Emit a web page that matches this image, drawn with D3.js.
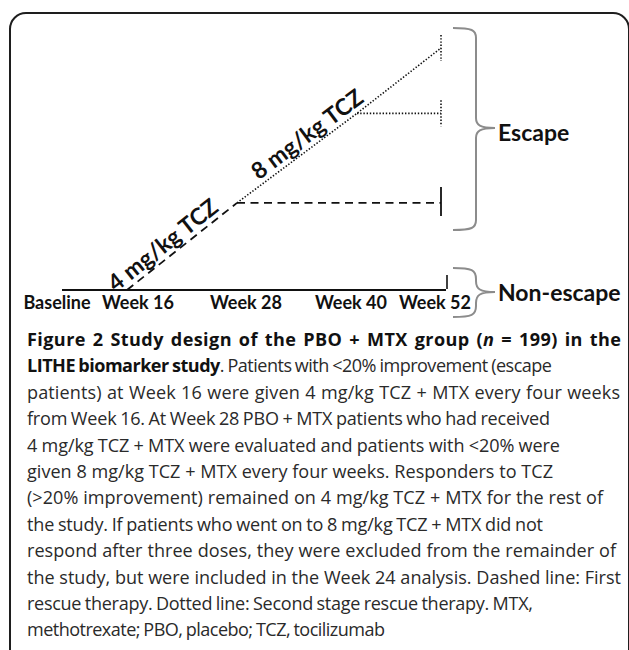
<!DOCTYPE html>
<html>
<head>
<meta charset="utf-8">
<script src="https://cdn.jsdelivr.net/npm/d3@7/dist/d3.min.js"></script>
<style>
  html, body { margin: 0; padding: 0; background: #fff; }
  svg { display: block; }
</style>
</head>
<body>
<svg id="chart" width="629" height="650"></svg>
<script>
// ---------- data ----------
const weeks = [0, 16, 28, 40, 52];
const weekLabels = ["Baseline", "Week 16", "Week 28", "Week 40", "Week 52"];
// escape path (diagonal) : week -> relative escape level
const diagonalWeeks = [16, 28, 40, 52];
const diagonalLevels = [0, 0.36, 0.73, 1.0];
// rescue branches that stay on dose until Week 52
const branchStartWeeks = [28, 40];
const branchLevels = [0.36, 0.73];
// dose labels along the diagonal (week at label centre)
const doseLabels = ["4 mg/kg TCZ", "8 mg/kg TCZ"];
const doseLabelWeeks = [20.8, 35.8];
// groups
const groupLabels = ["Escape", "Non-escape"];
// caption (runs: text, bold, italic)
const captionLines = [
  [["Figure 2 Study design of the PBO + MTX group (", 1, 0], ["n", 1, 1], [" = 199) in the", 1, 0]],
  [["LITHE biomarker study", 1, 0], [". Patients with <20% improvement (escape", 0, 0]],
  [["patients) at Week 16 were given 4 mg/kg TCZ + MTX every four weeks", 0, 0]],
  [["from Week 16. At Week 28 PBO + MTX patients who had received", 0, 0]],
  [["4 mg/kg TCZ + MTX were evaluated and patients with <20% were", 0, 0]],
  [["given 8 mg/kg TCZ + MTX every four weeks. Responders to TCZ", 0, 0]],
  [["(>20% improvement) remained on 4 mg/kg TCZ + MTX for the rest of", 0, 0]],
  [["the study. If patients who went on to 8 mg/kg TCZ + MTX did not", 0, 0]],
  [["respond after three doses, they were excluded from the remainder of", 0, 0]],
  [["the study, but were included in the Week 24 analysis. Dashed line: First", 0, 0]],
  [["rescue therapy. Dotted line: Second stage rescue therapy. MTX,", 0, 0]],
  [["methotrexate; PBO, placebo; TCZ, tocilizumab", 0, 0]]
];
// right end of each caption line in the reference
const captionLineEnds = [621, 552, 620, 550, 560, 553, 603, 543, 616, 621, 533, 385];

// ---------- scales ----------
const x = d3.scaleLinear().domain(weeks).range([62, 127, 237, 357, 441]);
const xLabel = d3.scaleLinear().domain(weeks).range([57, 138, 246, 351, 435]);
const y = d3.scaleLinear().domain([0, 1]).range([290, 48]);

const svg = d3.select("#chart");
const ink = "#111";
const diagramFont = "Lato, 'Open Sans', sans-serif";

// frame
svg.append("rect")
  .attr("x", 10).attr("y", 13).attr("width", 619).attr("height", 700)
  .attr("rx", 16).attr("ry", 16)
  .attr("fill", "none").attr("stroke", "#1e1e1e").attr("stroke-width", 2);

// axis line (non-escape)
svg.append("line")
  .attr("x1", x(0)).attr("x2", x(52) + 5)
  .attr("y1", y(0)).attr("y2", y(0))
  .attr("stroke", ink).attr("stroke-width", 2);
svg.append("line")
  .attr("x1", x(52) + 6).attr("x2", x(52) + 6)
  .attr("y1", y(0) - 15).attr("y2", y(0) - 1)
  .attr("stroke", ink).attr("stroke-width", 1.6);

// week labels
svg.append("g").selectAll("text").data(weeks).join("text")
  .attr("x", d => xLabel(d)).attr("y", y(0) + 19)
  .attr("text-anchor", "middle")
  .attr("font-family", diagramFont).attr("font-weight", 700)
  .attr("font-size", 18).attr("fill", ink)
  .text((d, i) => weekLabels[i]);

// diagonal segments
const diagPts = diagonalWeeks.map((w, i) => [x(w), y(diagonalLevels[i])]);
const lineGen = d3.line();
svg.append("path").attr("d", lineGen(diagPts.slice(0, 2)))
  .attr("fill", "none").attr("stroke", ink).attr("stroke-width", 1.8)
  .attr("stroke-dasharray", "8,5.5");
svg.append("path").attr("d", lineGen(diagPts.slice(1)))
  .attr("fill", "none").attr("stroke", ink).attr("stroke-width", 1.6)
  .attr("stroke-dasharray", "1.4,1.8");

// branches
branchStartWeeks.forEach((w, i) => {
  svg.append("line")
    .attr("x1", x(w)).attr("x2", x(52))
    .attr("y1", y(branchLevels[i])).attr("y2", y(branchLevels[i]))
    .attr("stroke", ink)
    .attr("stroke-width", i === 0 ? 1.8 : 1.6)
    .attr("stroke-dasharray", i === 0 ? "8,5.5" : "1.4,1.8");
});

// end-of-study markers at Week 52
const endLevels = [branchLevels[0], branchLevels[1], diagonalLevels[3]];
endLevels.forEach((lv, i) => {
  svg.append("line")
    .attr("x1", x(52)).attr("x2", x(52))
    .attr("y1", y(lv) - (i === 0 ? 16 : 13)).attr("y2", y(lv) + 13)
    .attr("stroke", ink).attr("stroke-width", i === 0 ? 1.8 : 1.6)
    .attr("stroke-dasharray", i === 0 ? null : "1.4,1.8");
});

// dose labels
const diagX = d3.scaleLinear().domain(diagonalWeeks).range(diagonalWeeks.map(w => x(w)));
const diagY = d3.scaleLinear().domain(diagonalWeeks).range(diagonalLevels.map(l => y(l)));
doseLabels.forEach((t, i) => {
  const w = doseLabelWeeks[i];
  const a = i === 0 ? 0 : 1;
  const dx = diagPts[a + 1][0] - diagPts[a][0];
  const dy = diagPts[a + 1][1] - diagPts[a][1];
  const ang = Math.atan2(dy, dx);
  const off = 5;
  const px = diagX(w) + Math.sin(ang) * off;
  const py = diagY(w) - Math.cos(ang) * off;
  svg.append("text")
    .attr("transform", `translate(${px},${py}) rotate(${ang * 180 / Math.PI})`)
    .attr("text-anchor", "middle")
    .attr("font-family", diagramFont).attr("font-weight", 700)
    .attr("font-size", 23).attr("fill", ink)
    .text(t);
});

// braces
function brace(xl, xs, xt, y0, y1, ym, r) {
  return `M${xl},${y0} C${xs - 4},${y0} ${xs},${y0 + 2} ${xs},${y0 + r}` +
    ` L${xs},${ym - r} C${xs},${ym - 3} ${xs + 4},${ym} ${xt},${ym}` +
    ` C${xs + 4},${ym} ${xs},${ym + 3} ${xs},${ym + r}` +
    ` L${xs},${y1 - r} C${xs},${y1 - 2} ${xs - 4},${y1} ${xl},${y1}`;
}
const braceSpecs = [[28, 230, 128, 13], [268, 317, 292, 9]];
braceSpecs.forEach((b, i) => {
  svg.append("path")
    .attr("d", brace(453, 476, 495, b[0], b[1], b[2], i === 0 ? 10 : 11))
    .attr("fill", "none").attr("stroke", "#8c8c8c").attr("stroke-width", 2);
  svg.append("text")
    .attr("x", 498).attr("y", b[2] + b[3])
    .attr("font-family", diagramFont).attr("font-weight", 700)
    .attr("font-size", 23).attr("fill", ink)
    .text(groupLabels[i]);
});

// caption
const capFont = "'Open Sans', 'Noto Sans', sans-serif";
const capX = 27;
const cap = svg.append("g");
const probe = cap.append("text").attr("font-family", capFont).attr("font-size", 100)
  .text(captionLines[9][0][0]);
const wRef = probe.node().getComputedTextLength();
probe.remove();
const capSize = 100 * (captionLineEnds[9] - capX) / wRef;
captionLines.forEach((runs, li) => {
  const t = cap.append("text")
    .attr("x", capX).attr("y", 346 + li * 26.4)
    .attr("font-family", capFont).attr("font-size", capSize)
    .attr("fill", "#222");
  runs.forEach(r => {
    t.append("tspan")
      .attr("font-weight", r[1] ? 700 : 400)
      .attr("font-style", r[2] ? "italic" : "normal")
      .attr("fill", r[1] ? "#111" : "#2a2a2a")
      .text(r[0]);
  });
  const w = t.node().getComputedTextLength();
  const full = runs.map(r => r[0]).join("");
  const n = full.length;
  const spaces = (full.match(/ /g) || []).length;
  const extra = captionLineEnds[li] - capX - w;
  const ws = Math.max(-0.8, Math.min(2.2, extra * 0.5 / Math.max(1, spaces)));
  const ls = (extra - ws * spaces) / (n - 1);
  t.attr("word-spacing", ws.toFixed(3)).attr("letter-spacing", ls.toFixed(3));
});
</script>
</body>
</html>
